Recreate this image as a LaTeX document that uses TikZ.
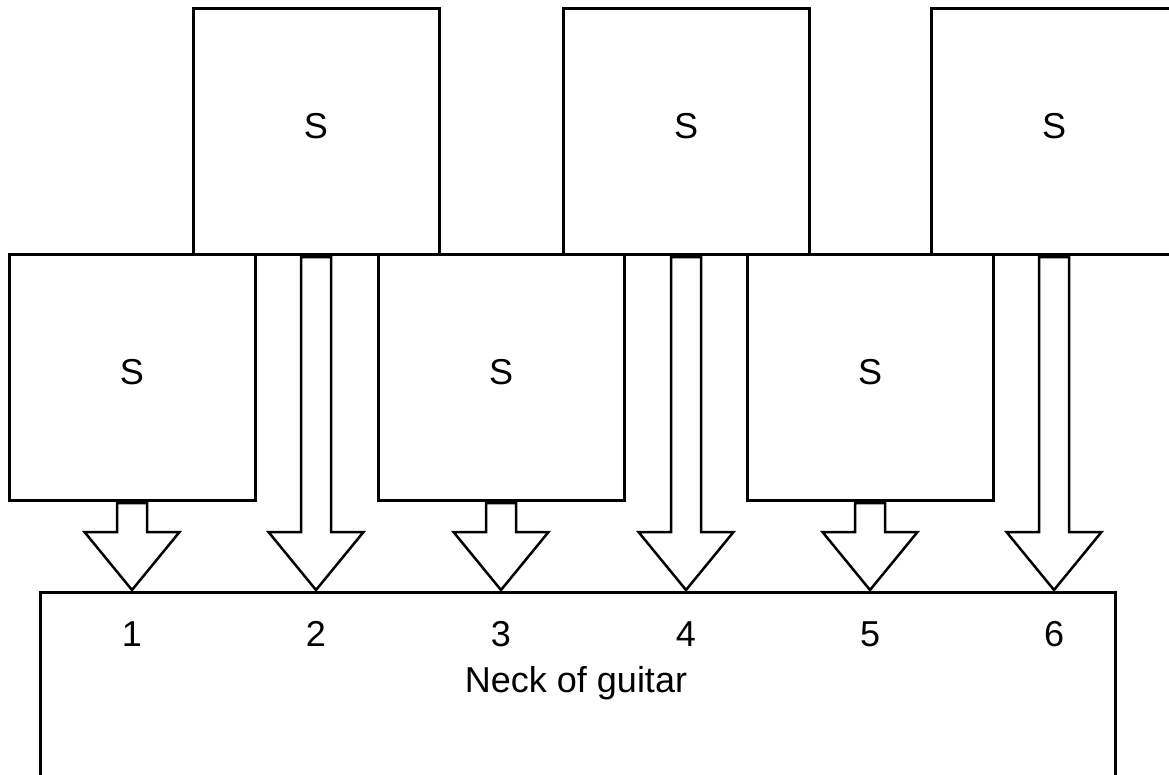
\documentclass[tikz,border=0pt]{standalone}
\usepackage{fontspec}
\setmainfont{Liberation Sans}
\usetikzlibrary{calc}
\tikzset{
  sbox/.style={draw, line width=3pt, fill=white, minimum width=246pt, minimum height=246pt,
    inner sep=0pt, outer sep=0pt, text height=26pt, text depth=12pt,
    font=\fontsize{36}{43}\selectfont},
  neckbox/.style={draw, line width=3pt, fill=white, anchor=north west, minimum width=1075pt,
    minimum height=300pt, inner sep=0pt, outer sep=0pt},
  lbl/.style={anchor=base, inner sep=0pt, font=\fontsize{36}{43}\selectfont},
  blockarrow/.style={draw, line width=2.5pt, fill=white, line join=miter,
    to path={let \p1=(\tikztostart), \p2=(\tikztotarget) in
      (\x1-15pt,\y1-3pt) -- (\x1+15pt,\y1-3pt) -- (\x1+15pt,\y2+60pt) -- (\x1+47.5pt,\y2+60pt)
      -- (\x1,\y2+2pt) -- (\x1-47.5pt,\y2+60pt) -- (\x1-15pt,\y2+60pt) -- cycle}}
}
\begin{document}
\begin{tikzpicture}[x=1pt, y=-1pt]
\useasboundingbox (0,0) rectangle (1169,774);
\clip (0,0) rectangle (1169,774);
% top row
\node[sbox] (s2) at (316,131) {S};
\node[sbox] (s4) at (686,131) {S};
\node[sbox] (s6) at (1054,131) {S};
% lower row
\node[sbox] (s1) at (132,377) {S};
\node[sbox] (s3) at (501,377) {S};
\node[sbox] (s5) at (870,377) {S};
% neck
\node[neckbox] (neck) at (40,592) {};
% arrows
\foreach \s in {s1,s2,s3,s4,s5,s6}{
  \draw[blockarrow] (\s.south) to (\s.south |- neck.north);
}
% labels
\node[lbl] (n1) at (132,646) {1};
\node[lbl] (n2) at (316,646) {2};
\node[lbl] (n3) at (501,646) {3};
\node[lbl] (n4) at (686,646) {4};
\node[lbl] (n5) at (870,646) {5};
\node[lbl] (n6) at (1054,646) {6};
\node[lbl] (necklbl) at (576,692) {Neck of guitar};
\end{tikzpicture}
\end{document}
